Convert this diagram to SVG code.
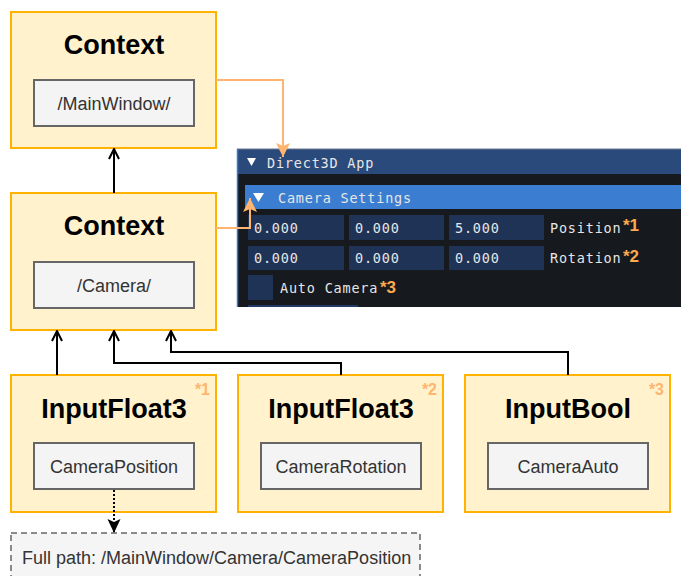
<svg xmlns="http://www.w3.org/2000/svg" width="681" height="576" viewBox="0 0 681 576">
<style>
.node{fill:#fff2cc;stroke:#ffb300;stroke-width:2}
.inner{fill:#f4f4f4;stroke:#666;stroke-width:2}
.title{font-family:"Liberation Sans",Arial,sans-serif;font-weight:bold;font-size:27px;fill:#000;text-anchor:middle}
.lbl{font-family:"Liberation Sans",Arial,sans-serif;font-size:18px;fill:#333;text-anchor:middle}
.star{font-family:"Liberation Sans",Arial,sans-serif;font-weight:bold;font-size:16px;fill:#ffb570;text-anchor:end}
.mono{font-family:"DejaVu Sans Mono",monospace;font-size:13.5px;fill:#e6e6e6;letter-spacing:0.8px}
.ostar{font-family:"Liberation Sans",Arial,sans-serif;font-weight:bold;font-size:17px;fill:#ffa94d}
.fbox{fill:#1f3357}
.blk{fill:none;stroke:#000;stroke-width:2}
.org{fill:none;stroke:#ffb570;stroke-width:2}
</style>
<defs>
<marker id="open" viewBox="0 0 12 12" refX="11" refY="6" markerWidth="12" markerHeight="12" markerUnits="userSpaceOnUse" orient="auto">
<path d="M1,1 L11,6 L1,11" fill="none" stroke="#000" stroke-width="2"/>
</marker>
<marker id="orgArr" viewBox="0 0 16 16" refX="15" refY="8" markerWidth="16" markerHeight="16" markerUnits="userSpaceOnUse" orient="auto">
<path d="M1,1 L15,8 L1,15 L4,8 Z" fill="#ffb570"/>
</marker>
<marker id="blkArr" viewBox="0 0 16 16" refX="15" refY="8" markerWidth="16" markerHeight="16" markerUnits="userSpaceOnUse" orient="auto">
<path d="M1,1.5 L15,8 L1,14.5 L4,8 Z" fill="#000"/>
</marker>
</defs>
<rect width="681" height="576" fill="#fff"/>

<!-- ImGui screenshot panel -->
<g id="screenshot">
<rect x="237" y="149" width="444" height="158" fill="#16191e"/>
<rect x="237" y="149" width="444" height="25" fill="#2b4a7c"/>
<line x1="237" y1="149" x2="681" y2="149" stroke="#6a7890" stroke-width="1"/>
<line x1="237.5" y1="149" x2="237.5" y2="307" stroke="#3a78c8" stroke-width="1.5"/>
<path d="M247,158 L256,158 L251.5,166 Z" fill="#fff"/>
<text x="267" y="168" class="mono">Direct3D App</text>
<rect x="245" y="185" width="436" height="24" fill="#3b7dd0"/>
<path d="M253,193 L264,193 L258.5,202 Z" fill="#fff"/>
<text x="278" y="203" class="mono">Camera Settings</text>
<rect class="fbox" x="248" y="215" width="96" height="25"/>
<rect class="fbox" x="349" y="215" width="95" height="25"/>
<rect class="fbox" x="449" y="215" width="95" height="25"/>
<rect class="fbox" x="248" y="246" width="96" height="24"/>
<rect class="fbox" x="349" y="246" width="95" height="24"/>
<rect class="fbox" x="449" y="246" width="95" height="24"/>
<rect class="fbox" x="248" y="275" width="25" height="25"/>
<rect x="248" y="305" width="110" height="2" fill="#1f3a66"/>
<text x="254" y="233" class="mono">0.000</text>
<text x="355" y="233" class="mono">0.000</text>
<text x="455" y="233" class="mono">5.000</text>
<text x="550" y="233" class="mono">Position</text>
<text x="623" y="231" class="ostar">*1</text>
<text x="254" y="263" class="mono">0.000</text>
<text x="355" y="263" class="mono">0.000</text>
<text x="455" y="263" class="mono">0.000</text>
<text x="550" y="263" class="mono">Rotation</text>
<text x="623" y="262" class="ostar">*2</text>
<text x="280" y="293" class="mono">Auto Camera</text>
<text x="380" y="293" class="ostar">*3</text>
</g>

<g id="ctx-main">
<rect class="node" x="11" y="12" width="205" height="136"/>
<text class="title" x="114" y="54">Context</text>
<rect class="inner" x="34" y="80" width="160" height="46"/>
<text class="lbl" x="114" y="110">/MainWindow/</text>
</g>

<g id="ctx-camera">
<rect class="node" x="11" y="193" width="205" height="137"/>
<text class="title" x="114" y="235">Context</text>
<rect class="inner" x="34" y="262" width="160" height="46"/>
<text class="lbl" x="114" y="292">/Camera/</text>
</g>

<g id="input-pos">
<rect class="node" x="11" y="375" width="205" height="137"/>
<text class="star" x="210" y="395">*1</text>
<text class="title" x="114" y="418">InputFloat3</text>
<rect class="inner" x="34" y="443" width="160" height="46"/>
<text class="lbl" x="114" y="473">CameraPosition</text>
</g>

<g id="input-rot">
<rect class="node" x="238" y="375" width="205" height="137"/>
<text class="star" x="437" y="395">*2</text>
<text class="title" x="341" y="418">InputFloat3</text>
<rect class="inner" x="261" y="443" width="160" height="46"/>
<text class="lbl" x="341" y="473">CameraRotation</text>
</g>

<g id="input-bool">
<rect class="node" x="465" y="375" width="205" height="137"/>
<text class="star" x="664" y="395">*3</text>
<text class="title" x="568" y="418">InputBool</text>
<rect class="inner" x="488" y="443" width="160" height="46"/>
<text class="lbl" x="568" y="473">CameraAuto</text>
</g>

<g id="fullpath">
<rect x="11" y="533" width="409" height="50" fill="#f5f5f5" stroke="#666" stroke-width="1.5" stroke-dasharray="6 4"/>
<text x="22" y="564" font-family="Liberation Sans, Arial, sans-serif" font-size="18" fill="#333">Full path: /MainWindow/Camera/CameraPosition</text>
</g>

<g id="connectors">
<path class="blk" d="M114,193 L114,149" marker-end="url(#open)"/>
<path class="blk" d="M57,375 L57,331" marker-end="url(#open)"/>
<path class="blk" d="M341,375 L341,363 L114,363 L114,331" marker-end="url(#open)"/>
<path class="blk" d="M568,375 L568,352 L171,352 L171,331" marker-end="url(#open)"/>
<path class="blk" d="M114,490 L114,533" stroke-dasharray="2 2" marker-end="url(#blkArr)"/>
<path class="org" d="M216,80 L283,80 L283,157" marker-end="url(#orgArr)"/>
<path class="org" d="M216,228 L250,228 L250,198" marker-end="url(#orgArr)"/>
</g>
</svg>
